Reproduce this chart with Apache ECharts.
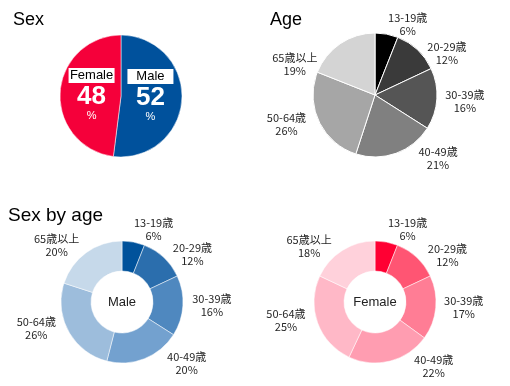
<!DOCTYPE html>
<html><head><meta charset="utf-8">
<script src="https://cdn.jsdelivr.net/npm/echarts@6/dist/echarts.min.js"></script>
<style>html,body{margin:0;padding:0;background:#fff}#c{width:510px;height:386px}</style>
</head><body><div id="c"></div>
<script>
var sexNames = ['Male', 'Female'];
var sexValues = [52, 48];
var ageGroups = ['13-19歳', '20-29歳', '30-39歳', '40-49歳', '50-64歳', '65歳以上'];
var ageValues = [6, 12, 16, 21, 26, 19];
var maleAgeValues = [6, 12, 16, 20, 26, 20];
var femaleAgeValues = [6, 12, 17, 22, 25, 18];

var sexColors = ['#00519c', '#f5003a'];
var greyColors = ['#000000', '#3a3a3a', '#555555', '#808080', '#a6a6a6', '#d4d4d4'];
var blueColors = ['#00529b', '#2b6ead', '#4f88bf', '#73a1cf', '#9dbddc', '#c6d9ea'];
var pinkColors = ['#ff0033', '#ff5573', '#ff7d95', '#ff9db1', '#ffb8c7', '#ffd1db'];

// label nudges (style only), per series, per slice: [dx, dy]
var sexLabelShift = [[-4, -2], [4, 1]];
var ageLabelShift = [[-7, -4], [-5, -1], [0, 2], [13, -1], [0, 0], [-15, 26]];
var maleLabelShift = [[-8, -7], [-6, -8], [1, -1], [13, -1], [0, -6], [1, -2]];
var femaleLabelShift = [[-7, -7], [-4, -7], [0, -1], [15, -1], [1, -4], [-3, 1]];

function shifter(tbl) {
  return function (p) { var s = tbl[p.dataIndex]; return { dx: s[0], dy: s[1] }; };
}
function pairs(vals, cols) {
  return ageGroups.map(function (n, i) {
    return { name: n, value: vals[i], itemStyle: { color: cols[i] } };
  });
}
var FONT = '"Noto Sans CJK JP", "DejaVu Sans", sans-serif';
var outLabel = {
  show: true, position: 'outside',
  formatter: function (p) { return '{a|' + p.name + '}\n{a|' + p.value + '%}'; },
  rich: { a: { fontFamily: FONT, fontSize: 11, color: '#262626', width: 44, align: 'center', lineHeight: 13 } }
};
var labelLine = { show: false, length: 6, length2: 0 };

var chart = echarts.init(document.getElementById('c'));
chart.setOption({
  animation: false,
  backgroundColor: '#fff',
  title: [
    { text: 'Sex', left: 8, top: 6, textStyle: { fontFamily: 'Liberation Sans, Arial', fontSize: 18, fontWeight: 'normal', color: '#000' } },
    { text: 'Age', left: 265, top: 6, textStyle: { fontFamily: 'Liberation Sans, Arial', fontSize: 18, fontWeight: 'normal', color: '#000' } },
    { text: 'Sex by age', left: 3, top: 201, textStyle: { fontFamily: 'Liberation Sans, Arial', fontSize: 19, fontWeight: 'normal', color: '#000' } }
  ],
  graphic: [
    { type: 'text', x: 122, y: 302, style: { text: 'Male', fontFamily: 'Liberation Sans, Arial', fontSize: 13, fill: '#222', align: 'center', verticalAlign: 'middle' } },
    { type: 'text', x: 375, y: 302, style: { text: 'Female', fontFamily: 'Liberation Sans, Arial', fontSize: 13, fill: '#222', align: 'center', verticalAlign: 'middle' } }
  ],
  series: [
    {
      type: 'pie', center: [121, 96], radius: [0, 61], startAngle: 90, clockwise: true,
      itemStyle: { borderColor: '#fff', borderWidth: 0.5 },
      label: {
        show: true, position: 'inside',
        formatter: function (p) { return '{box|' + p.name + '}\n{num|' + p.value + '}\n{pc|%}'; },
        rich: {
          box: { backgroundColor: '#fff', color: '#000', fontFamily: 'Liberation Sans, Arial', fontSize: 13, width: 40, align: 'center', padding: [1, 3, 1, 3], lineHeight: 15 },
          num: { color: '#fff', fontFamily: 'Liberation Sans, Arial', fontSize: 26, fontWeight: 'bold', align: 'center', lineHeight: 27 },
          pc: { color: '#fff', fontFamily: 'Liberation Sans, Arial', fontSize: 11, align: 'center', lineHeight: 12 }
        }
      },
      labelLine: { show: false },
      labelLayout: shifter(sexLabelShift),
      data: sexNames.map(function (n, i) { return { name: n, value: sexValues[i], itemStyle: { color: sexColors[i] } }; })
    },
    {
      type: 'pie', center: [375, 95], radius: [0, 62], startAngle: 90, clockwise: true,
      itemStyle: { borderColor: '#fff', borderWidth: 1 },
      label: outLabel, labelLine: labelLine, labelLayout: shifter(ageLabelShift),
      data: pairs(ageValues, greyColors)
    },
    {
      type: 'pie', center: [122, 302], radius: [31, 61], startAngle: 90, clockwise: true,
      itemStyle: { borderColor: '#fff', borderWidth: 0.5 },
      label: outLabel, labelLine: labelLine, labelLayout: shifter(maleLabelShift),
      data: pairs(maleAgeValues, blueColors)
    },
    {
      type: 'pie', center: [375, 302], radius: [31, 61], startAngle: 90, clockwise: true,
      itemStyle: { borderColor: '#fff', borderWidth: 0.5 },
      label: outLabel, labelLine: labelLine, labelLayout: shifter(femaleLabelShift),
      data: pairs(femaleAgeValues, pinkColors)
    }
  ]
});
</script></body></html>
